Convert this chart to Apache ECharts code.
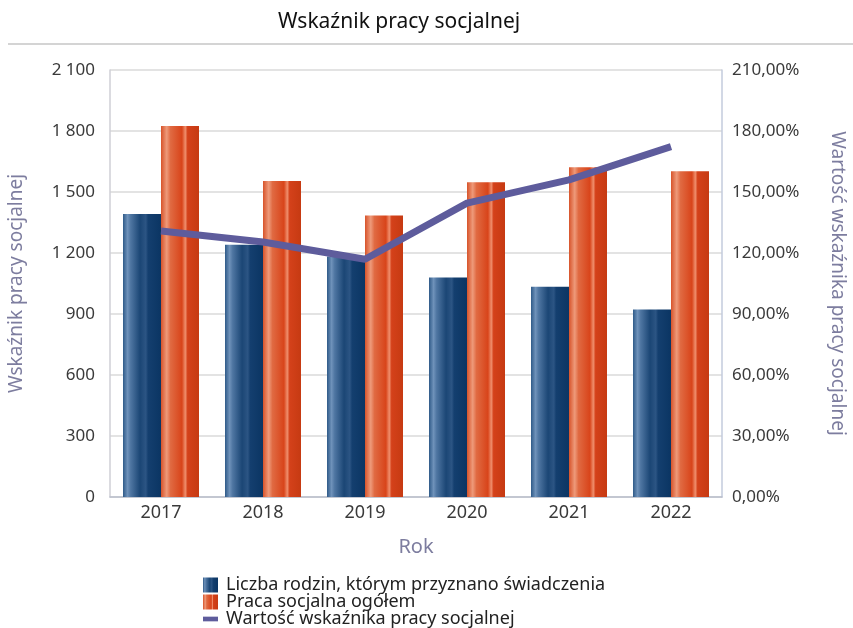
<!DOCTYPE html>
<html>
<head>
<meta charset="utf-8" />
<title>Wskaźnik pracy socjalnej</title>
<script type="text/javascript" src="https://cdn.jsdelivr.net/npm/echarts@6/dist/echarts.min.js"></script>
</head>
<body style="margin:0;background-color: white;">
<div id="main" style="width: 853px;height:628px;background-color: white;"></div>
<script type="text/javascript">
    // dane
    var years = ['2017', '2018', '2019', '2020', '2021', '2022'];
    var rodziny = [1392, 1240, 1183, 1079, 1034, 922];
    var pracaOgolem = [1825, 1554, 1384, 1548, 1622, 1602];
    var wskaznik = [130.8, 125.4, 116.9, 144.5, 156.0, 172.3];

    var fontName = 'Noto Sans';

    // gradient "walca" dla słupków
    function blueGrad() {
        return new echarts.graphic.LinearGradient(0, 0, 1, 0, [
            {offset: 0, color: '#2f5a88'},
            {offset: 0.12, color: '#6f92ba'},
            {offset: 0.2, color: '#4f76a2'},
            {offset: 0.45, color: '#1b4675'},
            {offset: 0.6, color: '#2c5584'},
            {offset: 0.66, color: '#143f6f'},
            {offset: 1, color: '#0b3563'}
        ]);
    }
    function orangeGrad() {
        return new echarts.graphic.LinearGradient(0, 0, 1, 0, [
            {offset: 0, color: '#d7532a'},
            {offset: 0.15, color: '#ee9a7a'},
            {offset: 0.25, color: '#e06a42'},
            {offset: 0.55, color: '#d8441a'},
            {offset: 0.64, color: '#ef8e6c'},
            {offset: 0.7, color: '#d4411a'},
            {offset: 1, color: '#c63a12'}
        ]);
    }

    var myChart = echarts.init(document.getElementById('main'));
    myChart.setOption({
        animation: false,
        textStyle: {fontFamily: fontName},
        title: {
            text: 'Wskaźnik pracy socjalnej',
            left: 273,
            top: 7,
            textStyle: {fontSize: 21, fontWeight: 'normal', color: '#111', fontFamily: fontName}
        },
        graphic: [{
            type: 'line',
            shape: {x1: 8, y1: 44, x2: 853, y2: 44},
            style: {stroke: '#d4d4d4', lineWidth: 2}
        }],
        legend: {
            orient: 'vertical',
            left: 203,
            top: 576,
            padding: 0,
            height: 60,
            itemGap: -1,
            itemWidth: 15,
            itemHeight: 15,
            textStyle: {fontSize: 18, color: '#222', padding: [0, 0, 0, 3]},
            data: [
                {name: 'Liczba rodzin, którym przyznano świadczenia', icon: 'rect'},
                {name: 'Praca socjalna ogółem', icon: 'rect'},
                {name: 'Wartość wskaźnika pracy socjalnej', icon: 'path://M0,0H16V5H0Z'}
            ]
        },
        grid: {left: 110, right: 131, top: 70, bottom: 131, outerBoundsMode: 'none'},
        xAxis: [{
            type: 'category',
            data: years,
            name: 'Rok',
            nameLocation: 'middle',
            nameGap: 40,
            nameTextStyle: {fontSize: 20, color: '#7d7d9f'},
            axisTick: {show: false},
            axisLine: {lineStyle: {color: '#b9bfcc', width: 1.5}},
            axisLabel: {fontSize: 18, color: '#3a3a3a', margin: 7}
        }],
        yAxis: [{
            type: 'value',
            min: 0,
            max: 2100,
            interval: 300,
            name: 'Wskaźnik pracy socjalnej',
            nameLocation: 'middle',
            nameGap: 84,
            nameTextStyle: {fontSize: 19, color: '#7d7d9f'},
            axisLine: {show: true, lineStyle: {color: '#cfcfd6', width: 1.5}},
            axisTick: {show: false},
            axisLabel: {
                fontSize: 17, color: '#3a3a3a', margin: 15,
                formatter: function (v) {
                    return String(v).replace(/\B(?=(\d{3})+(?!\d))/g, ' ');
                }
            },
            splitLine: {lineStyle: {color: '#dadada', width: 1.5}}
        }, {
            type: 'value',
            min: 0,
            max: 210,
            interval: 30,
            name: 'Wartość wskaźnika pracy socjalnej',
            nameLocation: 'middle',
            nameRotate: -90,
            nameGap: 106,
            nameTextStyle: {fontSize: 19, color: '#7d7d9f'},
            axisLine: {show: true, lineStyle: {color: '#c3cbdc', width: 1.5}},
            axisTick: {show: false},
            axisLabel: {
                fontSize: 17, color: '#3a3a3a', margin: 10,
                formatter: function (v) {
                    return v.toFixed(2).replace('.', ',') + '%';
                }
            },
            splitLine: {show: false}
        }],
        series: [{
            name: 'Liczba rodzin, którym przyznano świadczenia',
            type: 'bar',
            barWidth: 38,
            barGap: '0%',
            itemStyle: {color: blueGrad()},
            data: rodziny
        }, {
            name: 'Praca socjalna ogółem',
            type: 'bar',
            barWidth: 38,
            itemStyle: {color: orangeGrad()},
            data: pracaOgolem
        }, {
            name: 'Wartość wskaźnika pracy socjalnej',
            type: 'line',
            yAxisIndex: 1,
            symbol: 'none',
            itemStyle: {color: '#5e5c9c'},
            lineStyle: {color: '#5e5c9c', width: 7},
            data: wskaznik
        }]
    });
</script>
</body>
</html>
